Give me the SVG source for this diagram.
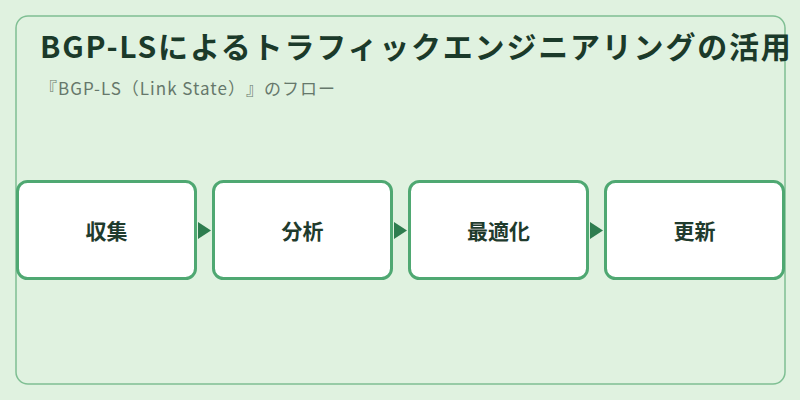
<svg xmlns="http://www.w3.org/2000/svg" width="800" height="400" viewBox="0 0 800 400">
<defs>
<style>
text{text-spacing-trim:space-all}
.node rect{fill:#ffffff;stroke:#4fa872;stroke-width:3}
.node text{font-family:"Noto Sans CJK JP","Noto Sans",sans-serif;font-size:21px;font-weight:bold;fill:#1f3b2d;text-anchor:middle}
.title{font-family:"Noto Sans CJK JP","Noto Sans",sans-serif;font-size:30px;font-weight:bold;fill:#1b3a2a}
.sub{font-family:"Noto Sans CJK JP","Noto Sans",sans-serif;font-size:17px;fill:#66786b}
.edge{fill:none;stroke:none}
</style>
<marker id="arr" viewBox="0 0 13 17" refX="13" refY="8.5" markerWidth="13" markerHeight="17" markerUnits="userSpaceOnUse" orient="auto">
<path d="M0,0 L13,8.5 L0,17 Z" fill="#2e7d4f"/>
</marker>
</defs>
<rect x="0" y="0" width="800" height="400" fill="#e0f2e0"/>
<rect x="16" y="16" width="769" height="368" rx="12" fill="none" stroke="#7fbf93" stroke-width="1.5"/>
<text class="title" x="40" y="58" letter-spacing="1.8">BGP-LSによるトラフィックエンジニアリングの活用</text>
<text class="sub" x="40" y="95" letter-spacing="1">『BGP-LS（Link State）』のフロー</text>
<g id="edges">
<line class="edge" x1="196" y1="230.5" x2="211" y2="230.5" marker-end="url(#arr)"/>
<line class="edge" x1="392" y1="230.5" x2="407" y2="230.5" marker-end="url(#arr)"/>
<line class="edge" x1="588" y1="230.5" x2="603" y2="230.5" marker-end="url(#arr)"/>
</g>
<g id="n1" class="node"><rect x="17.5" y="181.5" width="178" height="97" rx="10"/><text x="106.5" y="239">収集</text></g>
<g id="n2" class="node"><rect x="213.5" y="181.5" width="178" height="97" rx="10"/><text x="302.5" y="239">分析</text></g>
<g id="n3" class="node"><rect x="409.5" y="181.5" width="178" height="97" rx="10"/><text x="498.5" y="239">最適化</text></g>
<g id="n4" class="node"><rect x="605.5" y="181.5" width="178" height="97" rx="10"/><text x="694.5" y="239">更新</text></g>
</svg>
